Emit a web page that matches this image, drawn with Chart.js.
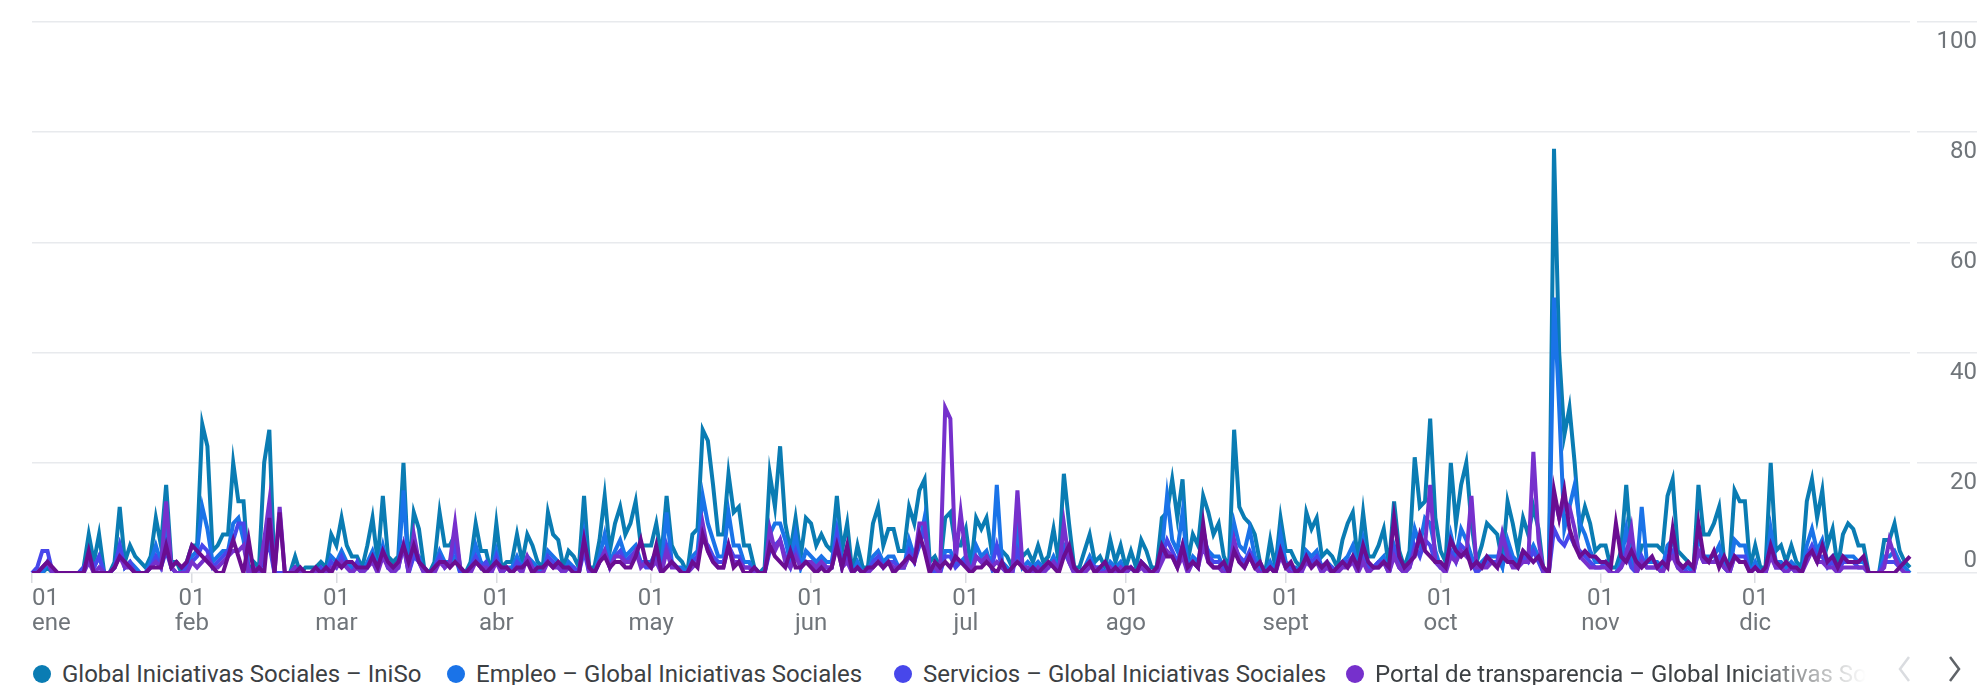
<!DOCTYPE html>
<html><head><meta charset="utf-8">
<script src="https://cdn.jsdelivr.net/npm/chart.js@4.4.1/dist/chart.umd.min.js"></script>
<style>
html,body{margin:0;padding:0;background:#fff;width:1985px;height:685px;overflow:hidden;font-family:Roboto,sans-serif;}
#wrap{position:absolute;left:0;top:0;width:1985px;height:650px;}
#legend{position:absolute;left:0;top:656px;width:1985px;height:36px;}
.item{position:absolute;top:0;height:36px;display:flex;align-items:center;white-space:nowrap;font-size:24px;color:#3c4043;overflow:hidden;}
.dot{width:18px;height:18px;border-radius:50%;margin-right:11px;flex:none;}
.fade{-webkit-mask-image:linear-gradient(to right,#000 76%,transparent 100%);mask-image:linear-gradient(to right,#000 76%,transparent 100%);}
#arrows{position:absolute;left:1890px;top:652px;}
#dbg{position:absolute;left:300px;top:100px;color:red;font-size:30px;}
</style></head>
<body>
<div id="wrap"><canvas id="c" width="1985" height="650"></canvas></div>
<div id="legend"></div>
<svg id="arrows" width="90" height="34"><polyline points="19,5 10,17 19,29" fill="none" stroke="#dadce0" stroke-width="2.5"/><polyline points="60,5 69,17 60,29" fill="none" stroke="#5f6368" stroke-width="2.5"/></svg>
<div id="dbg"></div>
<script>
const seriesNames = [
  "Global Iniciativas Sociales – IniSo",
  "Empleo – Global Iniciativas Sociales",
  "Servicios – Global Iniciativas Sociales",
  "Portal de transparencia – Global Iniciativas Sociales",
  "Contacto – Global Iniciativas Sociales"
];
const seriesColors = ["#0a7cb3","#1a73e8","#4747eb","#7630cc","#6a0d91"];
const monthNames = ["ene","feb","mar","abr","may","jun","jul","ago","sept","oct","nov","dic"];
const monthStarts = [0,31,59,90,120,151,181,212,243,273,304,334];
const yTicks = [0,20,40,60,80,100];

const inisoValues = [
0,0,0,1,0,0,0,0,0,0,
1,7,2,7,0,0,2,12,2,5,
3,2,1,3,10,5,16,2,2,0,
2,5,5,27,23,4,5,7,7,20,
13,13,0,2,1,20,26,0,0,0,
0,3,0,1,1,1,2,1,7,5,
10,5,3,3,1,5,10,2,14,3,
2,3,20,0,11,8,1,0,2,11,
5,5,7,1,0,2,9,4,4,0,
9,1,2,2,7,2,7,5,2,1,
11,7,6,1,4,3,1,14,1,1,
6,14,4,9,12,7,9,13,5,5,
5,9,3,14,5,3,2,0,7,8,
26,24,16,7,7,18,11,12,5,5,
1,0,1,18,12,23,9,4,10,3,
10,9,5,7,5,4,14,4,9,0,
5,1,1,9,12,5,8,8,4,4,
12,9,15,17,2,3,1,10,11,5,
5,8,1,10,8,10,4,5,4,3,
1,6,3,4,2,5,2,3,8,2,
18,9,1,1,4,7,2,3,1,6,
2,5,1,4,1,6,4,1,1,10,
11,17,10,17,2,7,5,14,11,7,
9,3,1,26,12,10,9,7,2,0,
6,1,10,4,4,2,1,11,8,10,
3,4,3,1,6,9,11,2,11,3,
3,5,8,1,13,4,1,4,21,12,
13,28,10,4,2,20,9,16,20,9,
2,5,9,8,7,2,13,9,4,10,
7,12,8,0,0,77,40,25,30,20,
8,12,9,4,5,5,1,1,4,16,
4,1,5,5,5,5,4,14,17,4,
3,2,0,16,7,7,9,12,2,1,
15,13,13,1,5,1,1,20,4,5,
2,5,2,1,13,17,10,15,5,8,
1,7,9,8,5,5,0,0,0,6,
6,9,4,2,1];

const empleoValues = [
0,0,0,2,0,0,0,0,0,0,
0,3,1,3,0,0,1,5,1,2,
1,0,0,2,5,2,8,1,0,0,
1,3,4,12,8,2,3,4,4,9,
10,6,0,1,0,5,8,0,0,0,
0,1,0,0,0,0,1,0,3,2,
4,2,1,1,0,2,4,1,5,1,
1,1,15,0,4,3,0,0,1,4,
2,2,3,0,0,1,5,2,1,0,
4,0,1,1,3,1,3,2,1,0,
4,3,2,0,2,1,0,7,0,0,
3,7,2,4,6,3,4,5,2,2,
2,4,1,11,2,1,1,0,3,4,
14,9,6,3,3,11,5,5,2,2,
0,0,0,7,9,9,6,2,7,1,
4,3,2,3,2,2,8,2,4,0,
2,0,0,3,4,2,3,3,1,1,
6,3,5,10,1,1,0,4,4,2,
2,3,0,5,3,4,1,16,2,1,
0,8,1,2,1,2,1,1,3,1,
5,3,0,0,1,3,1,1,0,2,
1,2,0,1,0,2,1,0,0,4,
14,6,4,11,1,3,2,6,4,3,
3,1,0,9,5,4,8,3,1,0,
2,0,7,2,1,1,0,4,3,4,
1,2,1,0,2,3,5,1,6,1,
1,2,3,0,5,2,0,2,8,5,
10,9,4,1,1,7,3,8,6,3,
1,2,3,3,3,1,6,3,2,4,
3,5,3,0,0,50,30,8,12,16,
9,7,4,2,2,2,0,0,2,8,
2,0,12,2,2,2,1,5,6,2,
1,1,0,7,3,3,3,5,1,0,
6,5,5,0,2,0,0,8,2,2,
1,2,1,0,5,8,4,6,2,3,
0,3,3,3,2,2,0,0,0,3,
3,4,2,1,0];

const serviciosValues = [
0,1,4,4,0,0,0,0,0,0,
1,3,1,3,0,0,1,5,1,2,
0,0,0,1,3,1,4,1,0,0,
1,2,3,5,4,1,2,3,4,6,
9,9,0,1,0,3,5,0,0,0,
0,1,0,0,0,0,1,0,2,1,
3,1,0,2,0,1,3,1,4,1,
0,1,5,0,3,2,0,0,1,3,
1,2,5,0,0,1,3,1,2,0,
3,0,1,0,2,1,2,1,0,0,
3,2,1,0,1,1,0,4,0,0,
2,4,1,3,4,2,3,4,2,1,
1,3,0,5,2,1,0,0,2,3,
6,5,3,2,2,5,3,3,1,1,
0,0,0,4,5,6,3,1,4,1,
2,2,1,2,1,1,7,1,3,0,
1,0,0,2,3,1,2,2,1,1,
4,2,5,8,1,0,0,3,3,1,
2,2,0,3,2,3,1,5,1,0,
0,4,1,1,0,1,0,1,2,1,
4,2,0,0,1,2,1,1,0,1,
0,1,0,1,0,2,1,0,0,3,
6,4,2,5,1,2,1,8,3,2,
2,1,0,5,3,2,4,2,0,0,
1,0,4,1,1,0,0,3,2,3,
1,1,1,0,2,2,3,1,3,1,
1,2,2,0,4,1,0,1,5,3,
6,5,2,1,1,4,2,5,4,2,
0,1,2,2,2,7,4,2,1,3,
2,4,2,0,0,8,6,5,7,5,
4,3,2,1,1,2,0,0,1,4,
1,0,3,1,1,1,0,3,4,1,
1,0,0,4,2,2,2,3,1,0,
3,3,3,0,1,0,0,4,1,1,
0,1,0,0,3,5,3,3,1,2,
0,2,2,2,1,1,0,0,0,2,
2,2,1,0,0];

const portalValues = [
0,0,1,2,0,0,0,0,0,0,
0,2,0,1,0,0,1,3,1,1,
0,0,0,1,2,1,13,1,0,0,
0,2,1,2,3,1,1,2,3,4,
4,5,0,1,0,6,13,0,12,0,
0,1,0,0,0,0,0,0,1,1,
2,1,0,1,0,1,2,0,3,1,
0,1,5,0,7,2,0,0,0,2,
1,2,9,1,0,0,2,1,1,0,
2,0,1,0,1,0,3,1,0,0,
2,1,1,0,1,0,0,6,0,0,
2,4,1,3,3,2,2,4,1,2,
1,2,0,4,1,1,0,0,1,2,
9,4,2,1,1,5,2,2,1,1,
0,0,0,8,4,6,2,1,3,1,
2,2,1,2,1,1,5,1,2,0,
1,0,0,1,2,1,2,1,1,1,
3,2,9,9,1,1,0,30,28,2,
11,3,0,3,2,3,1,2,1,0,
0,15,1,1,0,1,0,1,2,0,
9,2,0,0,0,1,1,0,0,1,
0,1,0,1,0,1,0,0,0,2,
4,3,1,3,0,2,1,5,2,1,
1,0,0,6,2,1,3,1,0,0,
1,0,3,1,0,0,0,2,1,2,
0,1,0,0,1,1,2,0,2,0,
1,1,2,0,3,1,0,1,4,6,
5,16,2,1,0,3,2,4,3,14,
1,1,1,2,1,7,3,1,1,2,
2,22,6,0,0,14,10,13,12,8,
3,2,1,1,1,1,0,0,1,3,
8,0,2,1,1,1,0,2,3,1,
0,0,0,4,2,2,2,2,1,0,
3,2,2,0,1,0,0,3,1,1,
0,1,0,0,2,4,2,2,1,1,
0,1,1,1,1,1,0,0,0,1,
6,3,1,0,0];

const contactoValues = [
0,0,1,2,1,0,0,0,0,0,
0,4,0,0,0,0,1,3,2,1,
0,0,0,1,1,1,5,1,2,1,
2,5,4,3,2,1,0,0,3,6,
3,0,6,0,1,0,10,0,11,0,
0,0,1,0,0,1,0,1,0,2,
1,2,2,1,1,1,3,1,4,2,
1,2,5,2,5,2,1,0,1,2,
2,1,2,1,0,1,2,1,0,1,
2,1,1,0,1,1,2,0,1,1,
2,1,2,1,1,0,0,6,1,0,
2,3,1,2,2,1,1,3,6,2,
1,5,0,1,2,1,0,0,2,1,
7,4,2,1,1,5,1,2,0,0,
1,0,0,5,3,2,1,4,1,1,
2,1,0,1,0,1,5,1,5,0,
1,0,1,1,2,1,2,0,1,2,
3,2,7,4,0,2,1,2,1,3,
2,1,0,1,1,2,1,0,2,0,
1,2,1,0,1,0,1,2,1,0,
3,5,1,0,1,2,0,1,2,0,
1,0,1,1,0,2,1,0,1,5,
3,3,1,5,1,2,1,9,2,1,
1,2,0,4,2,1,3,1,2,0,
1,0,4,1,2,0,1,3,1,2,
1,2,0,1,2,1,3,1,5,2,
1,1,2,1,10,3,1,2,3,7,
4,3,2,2,1,6,4,3,4,1,
2,1,3,2,1,3,2,2,1,4,
3,2,3,1,0,15,10,15,8,5,
3,4,3,3,2,2,1,9,3,2,
4,2,1,2,3,1,2,1,8,2,
1,2,1,9,3,2,4,1,3,1,
3,2,2,0,1,0,1,5,2,1,
2,1,1,0,3,4,2,5,2,3,
1,3,2,2,2,3,0,0,0,0,
0,0,1,2,3];

const seriesData = [inisoValues, empleoValues, serviciosValues, portalValues, contactoValues];
const bad = seriesData.map(a=>a.length).filter(n=>n!==365);
if (bad.length) document.getElementById('dbg').textContent = 'LEN ' + seriesData.map(a=>a.length).join(',');

// legend (HTML)
const legendLefts = [33, 447, 894, 1346];
const legend = document.getElementById('legend');
legendLefts.forEach((left, i) => {
  const it = document.createElement('div');
  it.className = 'item' + (i === 3 ? ' fade' : '');
  it.style.left = left + 'px';
  if (i === 3) it.style.width = (1866 - left) + 'px';
  const d = document.createElement('span'); d.className = 'dot'; d.style.background = seriesColors[i];
  const t = document.createElement('span'); t.textContent = seriesNames[i];
  it.appendChild(d); it.appendChild(t); legend.appendChild(it);
});

const yLabelPlugin = {
  id: 'yLabels',
  beforeDraw(chart) {
    // keep the first month label inside the plot, aligned to its tick
    const xs = chart.scales.x;
    const items = xs.getLabelItems(chart.chartArea);
    const first = items.find(it => Array.isArray(it.label));
    if (first) first.options.textAlign = 'left';
  },
  afterDraw(chart) {
    const s = chart.scales.y, c = chart.ctx;
    c.save();
    c.font = '24px Roboto';
    c.fillStyle = '#70757a';
    c.textAlign = 'right';
    c.textBaseline = 'middle';
    yTicks.forEach(v => {
      const y = s.getPixelForValue(v);
      c.fillText(String(v), s.right - 8, v === 0 ? y - 12 : y + 20);
    });
    c.restore();
  }
};

function draw() {
  const labels = inisoValues.map((_, i) => i);
  new Chart(document.getElementById('c'), {
    type: 'line',
    data: {
      labels,
      datasets: seriesData.map((arr, i) => ({
        label: seriesNames[i], data: arr,
        borderColor: seriesColors[i], backgroundColor: seriesColors[i],
        borderWidth: 4, pointRadius: 0, tension: 0, fill: false, order: 5 - i
      }))
    },
    options: {
      responsive: false, animation: false, devicePixelRatio: 1,
      layout: { padding: { left: 32, top: 22, right: 0, bottom: 0 } },
      plugins: { legend: { display: false }, tooltip: { enabled: false } },
      scales: {
        x: {
          type: 'category', offset: false,
          border: { display: false },
          grid: { drawOnChartArea: false, drawTicks: true, tickLength: 10, color: '#dadce0', lineWidth: 1.5 },
          ticks: {
            autoSkip: false, maxRotation: 0, minRotation: 0, padding: 4,
            color: '#70757a', font: { family: 'Roboto', size: 24, lineHeight: 1.02 },
            callback: (v, i) => { const m = monthStarts.indexOf(i); return m >= 0 ? ['01', monthNames[m]] : null; }
          },
          afterFit: s => { s.height = 77; }
        },
        y: {
          position: 'right', min: 0, max: 100,
          border: { display: false },
          grid: { color: '#e8eaed', lineWidth: 1.5, drawTicks: true, tickLength: 67, tickColor: '#e8eaed', tickWidth: 1.5, tickBorderDash: [0, 7, 60, 10] },
          ticks: { stepSize: 20, display: false },
          afterFit: s => { s.width = 75; }
        }
      }
    },
    plugins: [yLabelPlugin]
  });
}
if (document.fonts && document.fonts.load) {
  document.fonts.load('24px Roboto').then(draw, draw);
} else draw();
</script>
</body></html>
